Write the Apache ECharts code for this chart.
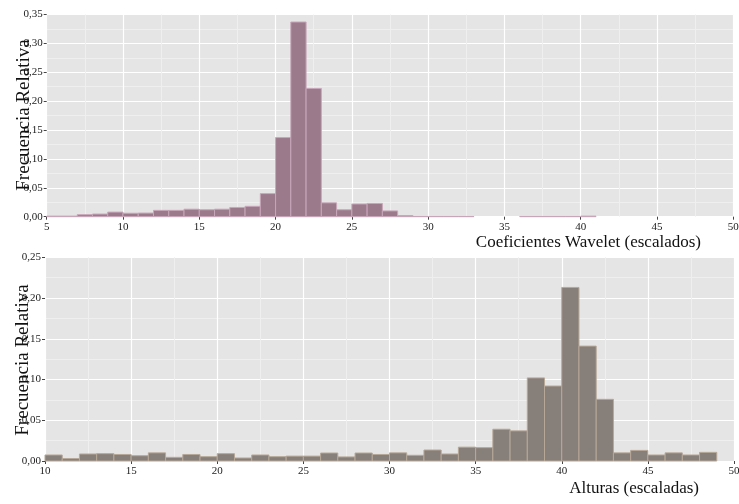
<!DOCTYPE html>
<html>
<head>
<meta charset="utf-8">
<script src="https://cdn.jsdelivr.net/npm/echarts@6/dist/echarts.min.js"></script>
<style>html,body{margin:0;padding:0;background:#fff}#c{width:739px;height:504px}</style>
</head>
<body>
<div id="c"></div>
<script>
// ---- Data ----
const topBinStarts = [5,6,7,8,9,10,11,12,13,14,15,16,17,18,19,20,21,22,23,24,25,26,27,28,29,30,31,32,33,34,35,36,37,38,39,40];
const topValues    = [0.001,0.001,0.0035,0.0046,0.008,0.006,0.0063,0.011,0.011,0.013,0.012,0.013,0.016,0.018,0.040,0.137,0.337,0.222,0.024,0.012,0.022,0.023,0.010,0.002,0.0004,0.0004,0.0004,0.0004,0,0,0,0.0004,0.0004,0.0004,0.0004,0.001];
const botBinStarts = [10,11,12,13,14,15,16,17,18,19,20,21,22,23,24,25,26,27,28,29,30,31,32,33,34,35,36,37,38,39,40,41,42,43,44,45,46,47,48];
const botValues    = [0.0074,0.003,0.0086,0.009,0.008,0.0065,0.010,0.0045,0.008,0.0053,0.009,0.0037,0.0074,0.0053,0.006,0.006,0.0098,0.005,0.0098,0.008,0.010,0.007,0.0135,0.0086,0.017,0.0164,0.039,0.037,0.102,0.092,0.213,0.141,0.0757,0.010,0.013,0.0074,0.010,0.0074,0.0106];
const binWidth = 1;
const topXTitle = 'Coeficientes Wavelet (escalados)';
const botXTitle = 'Alturas (escaladas)';
const yTitle = 'Frecuencia Relativa';

const SERIF = '"Liberation Serif", "DejaVu Serif", serif';

function toData(starts, vals) {
  return starts.map((s, i) => [s, s + binWidth, vals[i]]);
}
function renderBar(fill, edge) {
  return function (params, api) {
    const v = api.value(2);
    if (v <= 0) return null;
    const p0 = api.coord([api.value(0), v]);
    const p1 = api.coord([api.value(1), 0]);
    return {
      type: 'rect',
      shape: { x: p0[0], y: p0[1], width: p1[0] - p0[0], height: p1[1] - p0[1] },
      style: { fill: fill, stroke: edge, lineWidth: 1 }
    };
  };
}
function xAxisCfg(gi, min, max) {
  return {
    type: 'value', gridIndex: gi, min: min, max: max, interval: 5,
    axisLine: { show: false },
    axisTick: { show: true, length: 3, lineStyle: { color: '#444' } },
    axisLabel: { fontFamily: SERIF, fontSize: 11, color: '#222', margin: 5 },
    splitLine: { show: true, lineStyle: { color: '#ffffff', width: 1.2 } },
    minorTick: { show: false, splitNumber: 2 },
    minorSplitLine: { show: true, lineStyle: { color: '#efefef', width: 1 } }
  };
}
function yAxisCfg(gi, max) {
  return {
    type: 'value', gridIndex: gi, min: 0, max: max, interval: 0.05,
    axisLine: { show: false },
    axisTick: { show: true, length: 3, lineStyle: { color: '#444' } },
    axisLabel: { fontFamily: SERIF, fontSize: 11, color: '#222', margin: 4,
      formatter: v => v.toFixed(2).replace('.', ',') },
    splitLine: { show: true, lineStyle: { color: '#ffffff', width: 1.2 } },
    minorTick: { show: false, splitNumber: 2 },
    minorSplitLine: { show: true, lineStyle: { color: '#efefef', width: 1 } }
  };
}
function yTitleText(cx, cy) {
  return {
    type: 'text', x: cx, y: cy, rotation: Math.PI / 2, z: 10,
    style: { text: yTitle, fontFamily: SERIF, fontSize: 19, fill: '#111',
      textAlign: 'center', textVerticalAlign: 'middle' }
  };
}

const chart = echarts.init(document.getElementById('c'), null, { renderer: 'canvas' });
chart.setOption({
  animation: false,
  title: [
    { text: topXTitle, right: 38, top: 234, textStyle: { fontFamily: SERIF, fontSize: 17, fontWeight: 'normal', color: '#111' }, padding: 0 },
    { text: botXTitle, right: 40, top: 480, textStyle: { fontFamily: SERIF, fontSize: 17, fontWeight: 'normal', color: '#111' }, padding: 0 }
  ],
  graphic: [ yTitleText(24, 115), yTitleText(23, 360) ],
  grid: [
    { left: 46.7, right: 5.7, top: 14.5, height: 202.2, show: true, backgroundColor: '#e5e5e5', borderWidth: 0, containLabel: false, outerBoundsMode: 'none' },
    { left: 45, right: 5, top: 257.3, height: 203.7, show: true, backgroundColor: '#e5e5e5', borderWidth: 0, containLabel: false, outerBoundsMode: 'none' }
  ],
  xAxis: [ xAxisCfg(0, 5, 50), xAxisCfg(1, 10, 50) ],
  yAxis: [ yAxisCfg(0, 0.35), yAxisCfg(1, 0.25) ],
  series: [
    { type: 'custom', xAxisIndex: 0, yAxisIndex: 0, data: toData(topBinStarts, topValues),
      renderItem: renderBar('#9b7a8c', '#c8a6b9'), encode: { x: [0, 1], y: 2 } },
    { type: 'custom', xAxisIndex: 1, yAxisIndex: 1, data: toData(botBinStarts, botValues),
      renderItem: renderBar('#877f7a', '#b7a898'), encode: { x: [0, 1], y: 2 } }
  ]
});
</script>
</body>
</html>
